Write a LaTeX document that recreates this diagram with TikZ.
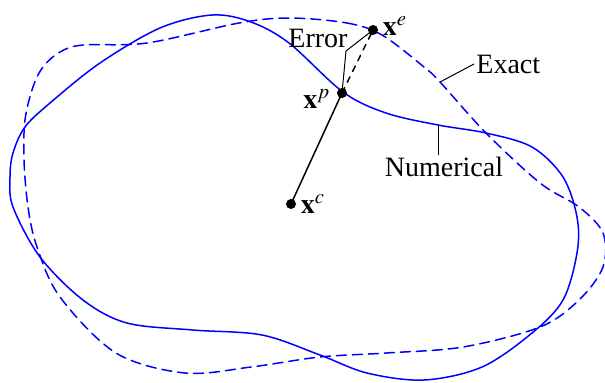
\documentclass[tikz,border=0pt]{standalone}
\usepackage{mathptmx}
\usepackage{fontspec}
\setmainfont{Liberation Serif}
\usetikzlibrary{positioning}
\tikzset{
	boundary/.style={blue, line width=0.75pt},
	exact/.style={boundary, dash pattern=on 5pt off 3pt},
	dot/.style={circle, fill, inner sep=0pt, minimum size=5pt},
	leader/.style={line width=0.5pt},
	lbl/.style={inner sep=1pt, font=\fontsize{14}{17}\selectfont}
}
\begin{document}
\begin{tikzpicture}[x=0.5pt,y=-0.5pt,line join=round,line cap=round]
	\useasboundingbox (0,0) rectangle (605,382);
	% numerical boundary
	\draw[boundary] plot[smooth cycle, tension=0.55] coordinates {
		(212,15) (251,22) (289,43) (343,92) (386,113) (438,125) (486,133)
		(532,147) (563,177) (577,217) (577,253) (563,300) (532,333) (482,367)
		(424,380) (367,373) (320,355) (262,335) (193,330) (127,323) (83,300)
		(40,257) (13,207) (10,177) (13,153) (25,127) (50,103) (100,63) (160,28)};
	% exact boundary
	\draw[exact] plot[smooth cycle, tension=0.55] coordinates {
		(289,18) (347,23) (382,35) (424,67) (440,82) (486,133) (540,183)
		(579,207) (603,233) (603,267) (579,300) (540,327) (463,347) (386,353)
		(320,357) (251,367) (185,373) (116,353) (60,297) (37,247) (28,207)
		(24,160) (25,120) (33,87) (43,67) (60,52) (83,45) (147,43) (239,23)};
	\path
	(291,204) coordinate (C)
	(342,93) coordinate (P)
	(373,30) coordinate (E)
	(346,51) coordinate (K)
	(440,82) coordinate (X1)
	(438,125) coordinate (N1)
	;
	\node[dot] (xc) at (C) {};
	\node[dot] (xp) at (P) {};
	\node[dot] (xe) at (E) {};
	\draw[line width=0.75pt] (xc.center)--(xp.center);
	\draw[line width=0.75pt, dashed] (xp.center)--(xe.center);
	\node[lbl, right=1pt of xc] (lc) {$\mathbf{x}^c$};
	\node[lbl, left=2pt of xp, yshift=-3pt] (lp) {$\mathbf{x}^p$};
	\node[lbl, right=1pt of xe, yshift=2pt] (le) {$\mathbf{x}^e$};
	% labels with leaders
	\node[lbl] (err) at (318,38) {Error};
	\node[lbl, anchor=west] (ex) at (474,64) {Exact};
	\node[lbl] (num) at (444,167) {Numerical};
	\draw[leader] (xe.center)--(K)--(xp.center);
	\draw[leader] (X1)--(ex.west);
	\draw[leader] (N1)--(num.north-|N1);
\end{tikzpicture}
\end{document}
